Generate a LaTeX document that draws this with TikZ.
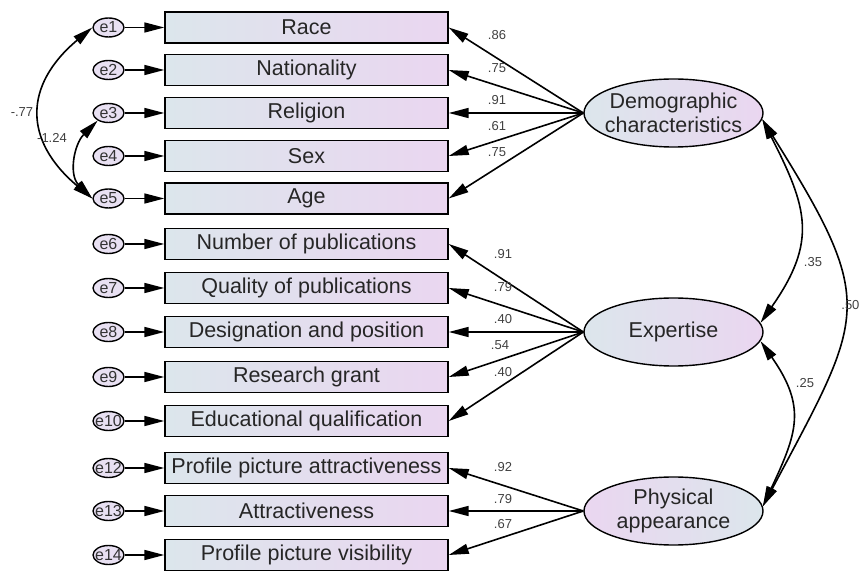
\documentclass[tikz,border=0pt]{standalone}
\usepackage{fontspec}
\setmainfont{Liberation Sans}
\usetikzlibrary{arrows.meta,shapes.geometric}
\definecolor{boxleft}{HTML}{DCE6EC}
\definecolor{boxright}{HTML}{EAD6F0}
\definecolor{errfill}{HTML}{E8E0F2}
\begin{document}
\begin{tikzpicture}[x=1pt,y=1pt,
  obs/.style={draw, line width=1.4pt, minimum width=283pt, minimum height=31pt, inner sep=0pt,
    left color=boxleft, right color=boxright, text=black!85, font=\fontsize{21.5}{24}\selectfont},
  err/.style={ellipse, draw, line width=1.4pt, fill=errfill, minimum width=31pt, minimum height=19pt,
    inner sep=0pt, text=black!80, font=\fontsize{16}{17}\selectfont},
  lat/.style={ellipse, draw, line width=1.4pt, minimum width=179pt, minimum height=68pt, inner sep=0pt,
    left color=boxleft, right color=boxright},
  lattext/.style={align=center, text=black!85, font=\fontsize{21.5}{23.5}\selectfont},
  arr/.style={line width=1.6pt, -{Triangle[length=20pt,width=10pt]}},
  cov/.style={line width=1.6pt, {Triangle[length=20pt,width=10pt]}-{Triangle[length=20pt,width=10pt]}},
  est/.style={text=black!75, font=\fontsize{13}{14}\selectfont}]
\useasboundingbox (0,0) rectangle (863,571);

% observed variables and their error terms
\foreach \n/\y/\t in {1/543.5/Race, 2/501/Nationality, 3/458/Religion, 4/415/Sex, 5/372.5/Age,
  6/327/Number of publications, 7/283/Quality of publications, 8/239/Designation and position,
  9/194/Research grant, 10/150/Educational qualification,
  12/103/Profile picture attractiveness, 13/60/Attractiveness, 14/16/Profile picture visibility}
{
  \node[obs] (v\n) at (306.5,\y) {\t};
  \node[err] (e\n) at (108.5,\y) {\makebox[0pt]{e\n}};
  \draw[arr] (e\n) -- (v\n);
}

% latent factors
\node[lat, label={[lattext]center:Demographic\\characteristics}] (dem) at (673.5,458) {};
\node[lat, label={[lattext]center:Expertise}] (exp) at (673.5,239) {};
\node[lat, left color=boxright, right color=boxleft,
  label={[lattext]center:Physical\\appearance}] (phys) at (673.5,60) {};

% loadings
\foreach \v in {1,...,5}
  \draw[arr] (dem.west) -- (v\v.east);
\foreach \v in {6,...,10}
  \draw[arr] (exp.west) -- (v\v.east);
\foreach \v in {12,13,14}
  \draw[arr] (phys.west) -- (v\v.east);

\foreach \x/\y/\t [count=\i] in {497/536/.86, 497/503/.75, 497/471/.91, 497/445/.61, 497/419/.75,
  503/317/.91, 503/284/.79, 503/252/.40, 500/226/.54, 503/199/.40,
  503/104/.92, 503/72/.79, 503/47/.67}
  \node[est] (w\i) at (\x,\y) {\t};

% covariances
\draw[cov] (dem.-4) to[out=-63,in=55,looseness=1.25] (exp.6);
\draw[cov] (dem.-4) to[out=-58,in=62,looseness=1.45] (phys.3);
\draw[cov] (exp.-6) to[out=-55,in=65,looseness=1.25] (phys.3);
\draw[cov] (e1.west) to[out=220,in=140,looseness=1.35] (e5.west);
\draw[cov] (e3.215) to[out=225,in=135,looseness=1.1] (e5.west);

\node[est] (c35) at (813,309) {.35};
\node[est] (c25) at (805,188) {.25};
\node[est, anchor=east] (c50) at (863,266) {.50};
\node[est] (c77) at (22,459) {-.77};
\node[est] (c124) at (52,433) {-1.24};

\end{tikzpicture}
\end{document}
